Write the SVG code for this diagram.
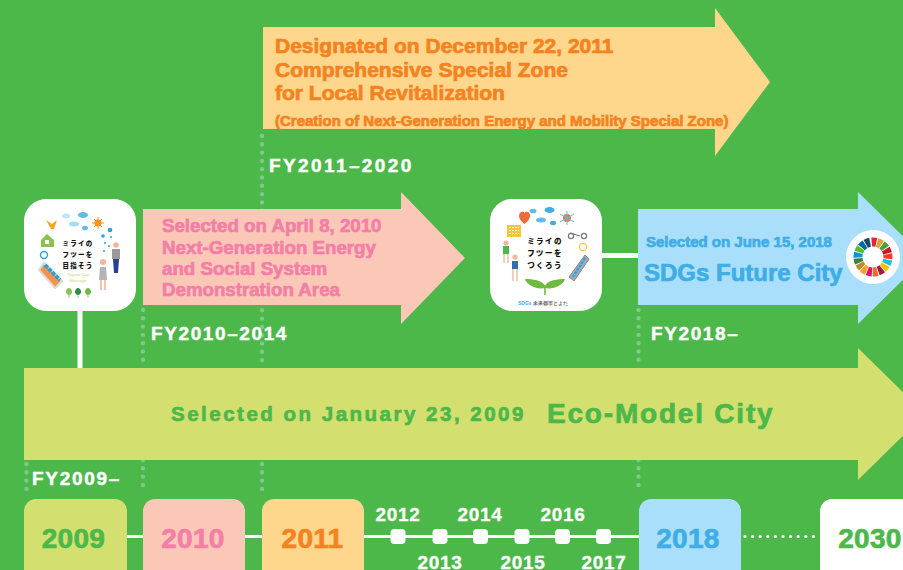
<svg xmlns="http://www.w3.org/2000/svg" width="903" height="570" viewBox="0 0 903 570">
<style>
text{font-family:"Liberation Sans",Arial,sans-serif;font-weight:700}
.wire{stroke:#fff;stroke-width:3;fill:none}
.thick{stroke-width:5}
.dots{stroke:#7fc98a;stroke-width:4.4;stroke-linecap:round;stroke-dasharray:0 8.3;fill:none}
.fy{fill:#fff;font-size:19px;stroke:#fff;stroke-width:.45}
.yr{font-size:28px;text-anchor:middle;letter-spacing:.3px}
.sm{fill:#fff;font-size:19px;letter-spacing:.7px;text-anchor:middle;stroke:#fff;stroke-width:.3}
.or{fill:#f58220;stroke:#f58220;stroke-width:.7}
.pk{fill:#f57ea6;stroke:#f57ea6;stroke-width:.7}
.bl{fill:#3fade6;stroke:#3fade6;stroke-width:.7}
.gr{fill:#4db84a;stroke:#4db84a;stroke-width:.7}
.mid{font-family:"Noto Sans CJK JP","Noto Sans",sans-serif;font-weight:900;fill:#111;text-anchor:middle}
.m1{font-size:6.5px;letter-spacing:1.2px}
.m2{font-size:7.5px;letter-spacing:1.4px}
.seg{fill:none;stroke-width:9;stroke-dasharray:4.7 90}
</style>
<rect width="903" height="570" fill="#4db84a"/>
<g id="connectors">
<path class="wire thick" d="M80 305V370"/>
<path class="wire thick" d="M600 255.500H640"/>
<path class="wire" d="M126 536.500H145M244 536.500H264M363 536.500H640"/>
<path class="dots" d="M26.500 464V490M143 310V366M143 460V487M262 136V366M262 464V490M638.500 310V366M638.500 460V487"/>
<path d="M745 536.500H815" stroke="#fff" stroke-width="3.2" stroke-linecap="round" stroke-dasharray="0 7.6" fill="none"/>
</g>
<g id="arrow-2011">
<path d="M263 27H715V8L770 82L715 156V129H263Z" fill="#fed68c"/>
<text class="or" x="275" y="53" font-size="21">Designated on December 22, 2011</text>
<text class="or" x="275" y="77" font-size="21">Comprehensive Special Zone</text>
<text class="or" x="275" y="100" font-size="21">for Local Revitalization</text>
<text class="or" x="275" y="126" font-size="15">(Creation of Next-Generation Energy and Mobility Special Zone)</text>
<text class="fy" x="269" y="172" letter-spacing="2.4">FY2011–2020</text>
</g>
<g id="arrow-2010">
<path d="M143 209H401V192L465 258L401 324V305H143Z" fill="#fbc8b8"/>
<text class="pk" x="162" y="232" font-size="18.700">Selected on April 8, 2010</text>
<text class="pk" x="162" y="254" font-size="18.700">Next-Generation Energy</text>
<text class="pk" x="162" y="275" font-size="18.700">and Social System</text>
<text class="pk" x="162" y="296" font-size="18.700">Demonstration Area</text>
<text class="fy" x="151" y="340" letter-spacing="1.6">FY2010–2014</text>
</g>
<g id="arrow-2018">
<path d="M638 209H858V192L925 258L858 324V305H638Z" fill="#a9dffb"/>
<text class="bl" x="646" y="247" font-size="15">Selected on June 15, 2018</text>
<text class="bl" x="644" y="281" font-size="24">SDGs Future City</text>
<circle cx="873" cy="257" r="27" fill="#fff"/>
<g id="sdg-wheel">
<circle class="seg" cx="873" cy="257" r="15" stroke="#e5243b" transform="rotate(-95 873 257)"/>
<circle class="seg" cx="873" cy="257" r="15" stroke="#dda63a" transform="rotate(-74 873 257)"/>
<circle class="seg" cx="873" cy="257" r="15" stroke="#4c9f38" transform="rotate(-53 873 257)"/>
<circle class="seg" cx="873" cy="257" r="15" stroke="#c5192d" transform="rotate(-32 873 257)"/>
<circle class="seg" cx="873" cy="257" r="15" stroke="#ff3a21" transform="rotate(-11 873 257)"/>
<circle class="seg" cx="873" cy="257" r="15" stroke="#26bde2" transform="rotate(10 873 257)"/>
<circle class="seg" cx="873" cy="257" r="15" stroke="#fcc30b" transform="rotate(31 873 257)"/>
<circle class="seg" cx="873" cy="257" r="15" stroke="#a21942" transform="rotate(52 873 257)"/>
<circle class="seg" cx="873" cy="257" r="15" stroke="#fd6925" transform="rotate(73 873 257)"/>
<circle class="seg" cx="873" cy="257" r="15" stroke="#dd1367" transform="rotate(94 873 257)"/>
<circle class="seg" cx="873" cy="257" r="15" stroke="#fd9d24" transform="rotate(115 873 257)"/>
<circle class="seg" cx="873" cy="257" r="15" stroke="#bf8b2e" transform="rotate(136 873 257)"/>
<circle class="seg" cx="873" cy="257" r="15" stroke="#3f7e44" transform="rotate(157 873 257)"/>
<circle class="seg" cx="873" cy="257" r="15" stroke="#0a97d9" transform="rotate(178 873 257)"/>
<circle class="seg" cx="873" cy="257" r="15" stroke="#56c02b" transform="rotate(199 873 257)"/>
<circle class="seg" cx="873" cy="257" r="15" stroke="#00689d" transform="rotate(220 873 257)"/>
<circle class="seg" cx="873" cy="257" r="15" stroke="#19486a" transform="rotate(241 873 257)"/>
</g>
<text class="fy" x="651" y="340" letter-spacing="1.6">FY2018–</text>
</g>
<g id="arrow-2009">
<path d="M24 368H858V348L925 414L858 480V460H24Z" fill="#d3df6f"/>
<text class="gr" x="171" y="421" font-size="20.500" letter-spacing="2.5">Selected on January 23, 2009</text>
<text class="gr" x="547" y="423" font-size="28" letter-spacing="1.8">Eco-Model City</text>
<text class="fy" x="32" y="485" letter-spacing="1.7">FY2009–</text>
</g>
<g id="badge-2009">
<rect x="24" y="199" width="112" height="112" rx="22" fill="#fff"/>
<ellipse cx="66" cy="216" rx="4" ry="2.500" fill="#bfe6f7"/>
<ellipse cx="83" cy="215" rx="5" ry="3" fill="#5fbde8"/>
<ellipse cx="74" cy="224" rx="5" ry="2.500" fill="#a6dcf3"/>
<ellipse cx="85" cy="228" rx="3" ry="2.300" fill="#5fbde8"/>
<circle cx="98" cy="223" r="3.500" fill="#f7941d"/>
<path d="M98 217V229M92 223H104M94 219L102 227M102 219L94 227" stroke="#f7941d" stroke-width="1"/>
<path d="M46 220L52 224L57 220L54 229L51 229Z" fill="#f7a823"/>
<path d="M41 240L47 234L54 240V247H41Z" fill="#8cc152"/>
<rect x="45" y="240" width="4" height="4" fill="#fff"/>
<circle cx="44" cy="255" r="3.500" fill="none" stroke="#2f9fdc" stroke-width="1.400"/>
<path d="M44 263L62 281L55 288L39 270Z" fill="#f6934a" stroke="#d9d9d9" stroke-width="2"/>
<path d="M45 265L60 280" stroke="#2f9fdc" stroke-width="4" stroke-dasharray="4 1"/>
<g fill="#2f9fdc"><circle cx="103" cy="236" r="1.800"/><circle cx="110" cy="230" r="2.300"/><circle cx="105" cy="243" r="1"/><circle cx="111" cy="237" r="1"/><circle cx="109" cy="246" r="1"/><circle cx="104" cy="251" r="1"/></g>
<circle cx="116" cy="245" r="2.800" fill="#f5b59a"/>
<rect x="112" y="249" width="8" height="10" fill="#9a9a9a"/>
<path d="M113 259H119L118 273H114Z" fill="#2a3f8f"/>
<circle cx="103" cy="262" r="3" fill="#f5b59a"/>
<path d="M100 267H106L107 280H99Z" fill="#b5b5b5"/>
<path d="M101 280V290M105 280V290" stroke="#f5b59a" stroke-width="1.600"/>
<text class="mid m1" x="78" y="246">ミライの</text>
<text class="mid m1" x="78" y="257">フツーを</text>
<text class="mid m1" x="78" y="268">目指そう</text>
<text x="78" y="276" font-size="4" text-anchor="middle" fill="#cfe59b">Toyota City</text>
<text x="78" y="282" font-size="4" text-anchor="middle" fill="#cfe59b">Message</text>
<path d="M69 295c-5-1-3-7 0-7s5 6 0 7z" fill="#8cc152"/>
<path d="M78 295c-5-1-3-7 0-7s5 6 0 7z" fill="#2e8b4a"/>
<path d="M88 295c-5-1-3-7 0-7s5 6 0 7z" fill="#6fbb3d"/>
<path d="M69 295V298M78 295V298M88 295V298" stroke="#d9b38c" stroke-width="1"/>
</g>
<g id="badge-2018">
<rect x="490" y="199" width="112" height="112" rx="22" fill="#fff"/>
<ellipse cx="533" cy="211" rx="3.500" ry="2.300" fill="#5fbde8"/>
<ellipse cx="549.500" cy="210" rx="5" ry="3" fill="#3fade6"/>
<ellipse cx="541" cy="220" rx="5" ry="2.500" fill="#5fbde8"/>
<ellipse cx="553" cy="223" rx="3" ry="2.200" fill="#3fade6"/>
<path d="M519 216c0-5 5-5 5.500-3 .5-2 6-2 5.500 3 0 3-3 6-5.500 8-2.500-2-5.500-5-5.500-8z" fill="#ef6b3a"/>
<circle cx="567" cy="218" r="4" fill="#f4743b"/>
<path d="M560 214L574 222M574 214L560 222M567 211V225" stroke="#5fbde8" stroke-width="1"/>
<rect x="507" y="225" width="14" height="12" fill="#f9c33c"/>
<path d="M509 227.500H519M509 230.500H519M509 233.500H519" stroke="#fff" stroke-width="1" stroke-dasharray="2 1"/>
<path d="M570 233L580 236" stroke="#777" stroke-width="1.200"/>
<circle cx="571" cy="236" r="2.600" fill="none" stroke="#777" stroke-width="1.200"/>
<circle cx="584" cy="236" r="2.600" fill="none" stroke="#777" stroke-width="1.200"/>
<circle cx="583" cy="247" r="3.600" fill="none" stroke="#f9c33c" stroke-width="1.200"/>
<path d="M585 255L589 259L574 281L569 277Z" fill="#9ab" stroke="#888"/>
<path d="M585 258L573 277" stroke="#2f9fdc" stroke-width="2" stroke-dasharray="3 1"/>
<circle cx="506" cy="243" r="2.600" fill="#f5b59a"/>
<rect x="503" y="246" width="6" height="8" fill="#4db84a"/>
<path d="M504 254V263M508 254V263" stroke="#f0c2a8" stroke-width="1.600"/>
<circle cx="515" cy="257" r="2.600" fill="#f5b59a"/>
<rect x="512" y="261" width="6" height="8" fill="#2f6fae"/>
<path d="M513 269V281M517 269V281" stroke="#f0c2a8" stroke-width="1.600"/>
<text class="mid m2" x="545" y="244">ミライの</text>
<text class="mid m2" x="545" y="256">フツーを</text>
<text class="mid m2" x="545" y="268">つくろう</text>
<path d="M545 288C535 290 526 284 525 279C532 279 543 280 545 286C547 280 558 279 565 279C564 284 555 290 545 288Z" fill="#6fbb3d"/>
<path d="M545 285V295" stroke="#6fbb3d" stroke-width="1.600"/>
<text x="518" y="305" font-size="5" fill="#3fade6">SDGs</text>
<text x="533" y="305" font-size="4.600" fill="#666" font-family="Noto Sans CJK JP,sans-serif">未来都市とよた</text>
</g>
<g id="year-2009"><rect x="24" y="499" width="103" height="90" rx="12" fill="#d3df6f"/><text class="yr gr" x="73.500" y="548">2009</text></g>
<g id="year-2010"><rect x="143" y="499" width="102" height="90" rx="12" fill="#fbc8b8"/><text class="yr pk" x="193" y="548">2010</text></g>
<g id="year-2011"><rect x="262" y="499" width="102" height="90" rx="12" fill="#fed68c"/><text class="yr or" x="312.500" y="548">2011</text></g>
<g id="year-2018"><rect x="639" y="499" width="102" height="90" rx="12" fill="#a9dffb"/><text class="yr bl" x="688" y="548">2018</text></g>
<g id="year-2030"><rect x="820" y="499" width="102" height="90" rx="12" fill="#fff"/><text class="yr gr" x="870" y="548">2030</text></g>
<g id="ticks" fill="#fff">
<rect x="390.500" y="529" width="15" height="15" rx="4"/>
<rect x="432.500" y="529" width="15" height="15" rx="4"/>
<rect x="473" y="529" width="15" height="15" rx="4"/>
<rect x="514.500" y="529" width="15" height="15" rx="4"/>
<rect x="555" y="529" width="15" height="15" rx="4"/>
<rect x="596" y="529" width="15" height="15" rx="4"/>
<text class="sm" x="398" y="521">2012</text>
<text class="sm" x="440" y="569">2013</text>
<text class="sm" x="480" y="521">2014</text>
<text class="sm" x="523" y="569">2015</text>
<text class="sm" x="563" y="521">2016</text>
<text class="sm" x="604" y="569">2017</text>
</g>
</svg>
